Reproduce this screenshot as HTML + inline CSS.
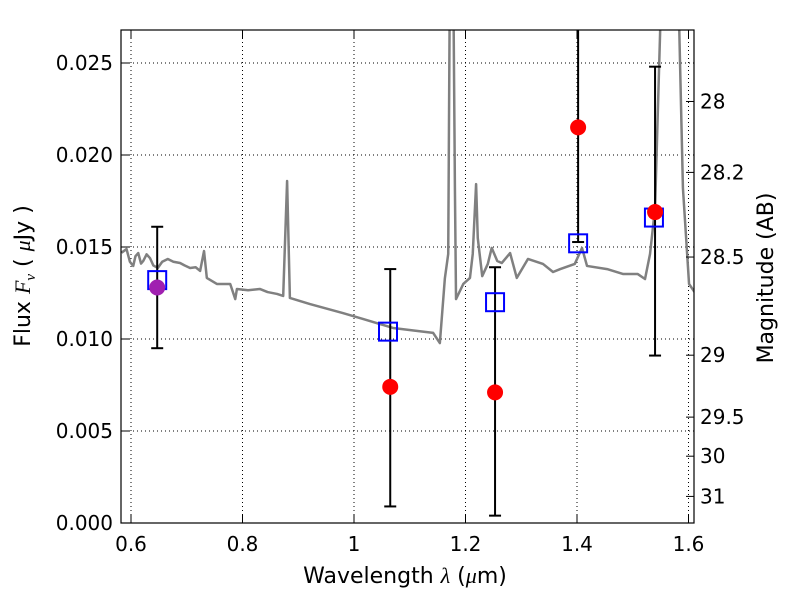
<!DOCTYPE html>
<html><head><meta charset="utf-8"><style>
body{margin:0;background:#fff}
svg text{font-family:"DejaVu Sans","Liberation Sans",sans-serif;fill:#000}
</style></head><body>
<svg id="chart" width="800" height="600" xmlns="http://www.w3.org/2000/svg">
<rect width="800" height="600" fill="#fff"/>
<defs><clipPath id="pc"><rect x="121" y="30" width="573" height="493"/></clipPath></defs>
<g id="grid"></g>
<g id="spec" clip-path="url(#pc)"></g>
<g id="marks" clip-path="url(#pc)"></g>
<g id="axes"></g>
<text x="405" y="583" font-size="22" text-anchor="middle">Wavelength  <tspan font-style="italic" font-family="Liberation Serif,serif">λ</tspan> (<tspan font-style="italic" font-family="Liberation Serif,serif">μ</tspan>m)</text>
<text transform="translate(30,276) rotate(-90)" font-size="22" text-anchor="middle">Flux  <tspan font-style="italic" font-family="Liberation Serif,serif">F<tspan font-size="15" dy="5">ν</tspan></tspan><tspan dy="-5">  ( </tspan><tspan font-style="italic" font-family="Liberation Serif,serif">μ</tspan>Jy )</text>
<text transform="translate(773,278) rotate(-90)" font-size="22" text-anchor="middle">Magnitude (AB)</text>
</svg>
<script>
const xTicks=[0.6,0.8,1.0,1.2,1.4,1.6];
const xTickLabels=["0.6","0.8","1","1.2","1.4","1.6"];
const yTicks=[0,0.005,0.010,0.015,0.020,0.025];
const yTickLabels=["0.000","0.005","0.010","0.015","0.020","0.025"];
const magTicks=[28,28.2,28.5,29,29.5,30,31];
const magTickLabels=["28","28.2","28.5","29","29.5","30","31"];
const specWave=[0.583,0.588,0.592,0.598,0.604,0.608,0.613,0.618,0.622,0.628,0.634,0.640,0.648,0.656,0.666,0.676,0.688,0.696,0.706,0.716,0.724,0.731,0.736,0.754,0.778,0.787,0.790,0.810,0.831,0.845,0.862,0.873,0.880,0.885,0.921,0.980,1.016,1.070,1.142,1.154,1.163,1.169,1.172,1.178,1.181,1.183,1.196,1.208,1.213,1.219,1.222,1.230,1.240,1.247,1.257,1.265,1.280,1.292,1.312,1.339,1.357,1.370,1.396,1.409,1.418,1.454,1.483,1.509,1.522,1.531,1.540,1.549,1.552,1.581,1.590,1.601,1.612];
const specFlux=[0.01469,0.01480,0.01489,0.01420,0.01397,0.01450,0.01467,0.01410,0.01424,0.01460,0.01440,0.01400,0.01386,0.01420,0.01435,0.01420,0.01413,0.01400,0.01386,0.01390,0.01370,0.01478,0.01332,0.01299,0.01299,0.01217,0.01272,0.01265,0.01272,0.01255,0.01245,0.01234,0.01859,0.01223,0.01190,0.01141,0.01109,0.01060,0.01033,0.00978,0.01330,0.01462,0.030,0.030,0.01821,0.01217,0.01299,0.01332,0.01462,0.01842,0.01549,0.01342,0.01408,0.01495,0.01424,0.01413,0.01467,0.01332,0.01435,0.01408,0.01364,0.01380,0.01408,0.01495,0.01397,0.01380,0.01353,0.01353,0.01326,0.01462,0.01712,0.02658,0.030,0.030,0.01821,0.01299,0.0125];
const obsWave=[0.647,1.065,1.253,1.402,1.540];
const obsFlux=[0.0128,0.0074,0.0071,0.0215,0.0169];
const modelWave=[0.647,1.061,1.253,1.402,1.538];
const modelFlux=[0.0132,0.0104,0.0120,0.0152,0.0166];
const errLow=[0.0095,0.0009,0.0004,0.01527,0.0091];
const errHigh=[0.0161,0.0138,0.0139,0.030,0.0248];
const X=v=>131+(v-0.6)*557.5;
const Y=v=>523-v*18400;
const magToFlux=m=>Math.pow(10,(23.9-m)/2.5);
const NS="http://www.w3.org/2000/svg";
function mk(p,t,a){const e=document.createElementNS(NS,t);for(const k in a)e.setAttribute(k,a[k]);p.appendChild(e);return e;}
const grid=document.getElementById('grid'),axes=document.getElementById('axes');
xTicks.forEach((t,i)=>{
 const g=mk(grid,'line',{x1:X(t),x2:X(t),y1:30,y2:523,stroke:'#000','stroke-width':1,'stroke-dasharray':'1,3'});
 
 mk(axes,'line',{x1:X(t),x2:X(t),y1:523,y2:515,stroke:'#000'});
 mk(axes,'line',{x1:X(t),x2:X(t),y1:30,y2:38,stroke:'#000'});
 const tx=mk(axes,'text',{x:X(t),y:551,'font-size':20,'text-anchor':'middle'});tx.textContent=xTickLabels[i];
 
});
yTicks.forEach((t,i)=>{
 const g=mk(grid,'line',{x1:121,x2:694,y1:Y(t),y2:Y(t),stroke:'#000','stroke-width':1,'stroke-dasharray':'1,3'});
 
 mk(axes,'line',{x1:121,x2:129,y1:Y(t),y2:Y(t),stroke:'#000'});
 const tx=mk(axes,'text',{x:113,y:Y(t)+7,'font-size':20,'text-anchor':'end'});tx.textContent=yTickLabels[i];
 
});
magTicks.forEach((m,i)=>{
 const y=Y(magToFlux(m));
 mk(axes,'line',{x1:686,x2:694,y1:y,y2:y,stroke:'#000'});
 const tx=mk(axes,'text',{x:700,y:y+7,'font-size':20});tx.textContent=magTickLabels[i];
 
});
mk(axes,'rect',{x:121,y:30,width:573,height:493,fill:'none',stroke:'#000','stroke-width':1.2});
const spec=document.getElementById('spec');
const sp=mk(spec,'polyline',{points:specWave.map((w,i)=>X(w)+','+Y(specFlux[i])).join(' '),fill:'none',stroke:'#808080','stroke-width':2.5,'stroke-linejoin':'round'});

const marks=document.getElementById('marks');
obsWave.forEach((w,i)=>{
 const e=mk(marks,'g',{});
 
 const x=X(w);
 mk(e,'line',{x1:x,x2:x,y1:Y(errLow[i]),y2:Y(errHigh[i]),stroke:'#000','stroke-width':2});
 mk(e,'line',{x1:x-6,x2:x+6,y1:Y(errLow[i]),y2:Y(errLow[i]),stroke:'#000','stroke-width':2});
 mk(e,'line',{x1:x-6,x2:x+6,y1:Y(errHigh[i]),y2:Y(errHigh[i]),stroke:'#000','stroke-width':2});
});
modelWave.forEach((w,i)=>{
 const r=mk(marks,'rect',{x:X(w)-9,y:Y(modelFlux[i])-9,width:18,height:18,fill:'none',stroke:'#0000ff','stroke-width':2});
 
});
obsWave.forEach((w,i)=>{
 const c=mk(marks,'circle',{cx:X(w),cy:Y(obsFlux[i]),r:8,fill:i===0?'#a020b0':'#ff0000'});
 
});
</script>
</body></html>
